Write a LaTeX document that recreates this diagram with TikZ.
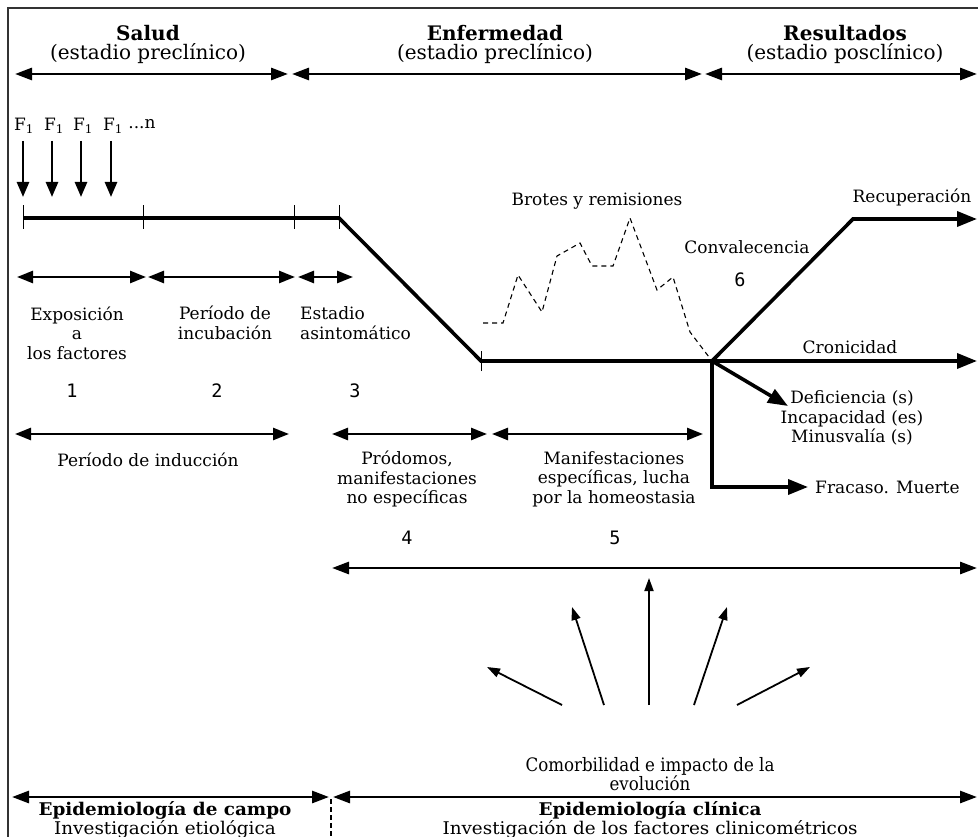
\documentclass[tikz,border=0pt]{standalone}
\usepackage{fontspec}
\setmainfont{DejaVu Serif}
\newfontfamily\numfont{DejaVu Sans Mono}
\newfontfamily\condfont[FakeStretch=0.9]{DejaVu Serif}
\newfontfamily\bcondfont[FakeStretch=1.05]{DejaVu Serif}
\usetikzlibrary{arrows.meta}
\begin{document}
\begin{tikzpicture}[x=1pt,y=-1pt,
  txt/.style={font=\fontsize{17}{19.5}\selectfont, inner sep=0pt, align=center},
  hdr/.style={font=\fontsize{20}{19}\selectfont, inner sep=0pt, align=center},
  num/.style={font=\numfont\fontsize{18.5}{18}\selectfont, inner sep=0pt},
  cond/.style={font=\condfont\fontsize{18.5}{18}\selectfont, inner sep=0pt, align=center},
  bcond/.style={font=\bcondfont\fontsize{17.5}{14.5}\selectfont, inner sep=0pt, align=center},
  hdrarrow/.style={line width=2.8pt, {Triangle[length=17pt,width=12pt]}-{Triangle[length=17pt,width=12pt]}},
  segarrow/.style={line width=2.5pt, {Triangle[length=16pt,width=12pt]}-{Triangle[length=16pt,width=12pt]}},
  farrow/.style={line width=2.5pt, -{Triangle[length=15pt,width=12pt]}},
  fanarrow/.style={line width=1.8pt, -{Triangle[length=13pt,width=9pt]}},
  thickline/.style={line width=3.6pt},
  outarrow/.style={line width=3.6pt, -{Triangle[length=20pt,width=15pt]}},
  tickmark/.style={line width=1pt}
]
\useasboundingbox (0,0) rectangle (978,837);
\fill[white] (0,0) rectangle (978,837);
% frame
\draw[line width=1.3pt, black!80] (8,837) -- (8,8) -- (978,8);

% headers
\node[hdr] (hSalud) at (148,44) {\textbf{Salud}\\(estadio preclínico)};
\node[hdr] (hEnf) at (495,44) {\textbf{Enfermedad}\\(estadio preclínico)};
\node[hdr] (hRes) at (845,44) {\textbf{Resultados}\\(estadio posclínico)};
\coordinate (ha0) at (15,74);
\coordinate (ha1) at (288,74);
\coordinate (ha2) at (292,74);
\coordinate (ha3) at (702,74);
\coordinate (ha4) at (705,74);
\coordinate (ha5) at (977,74);
\draw[hdrarrow] (ha0) -- (ha1);
\draw[hdrarrow] (ha2) -- (ha3);
\draw[hdrarrow] (ha4) -- (ha5);

% factors
\node[txt] (fa) at (24,126) {F\textsubscript{1}};
\node[txt] (fb) at (54,126) {F\textsubscript{1}};
\node[txt] (fc) at (83,126) {F\textsubscript{1}};
\node[txt] (fd) at (113,126) {F\textsubscript{1}};
\node[txt] (fn) at (142,124) {...n};
\coordinate (fa1) at (23,141); \coordinate (fa2) at (23,197);
\coordinate (fb1) at (52,141); \coordinate (fb2) at (52,197);
\coordinate (fc1) at (81,141); \coordinate (fc2) at (81,197);
\coordinate (fd1) at (111,141); \coordinate (fd2) at (111,197);
\draw[farrow] (fa1) -- (fa2);
\draw[farrow] (fb1) -- (fb2);
\draw[farrow] (fc1) -- (fc2);
\draw[farrow] (fd1) -- (fd2);

% timeline
\coordinate (t0) at (23,218);
\coordinate (t1) at (143,218);
\coordinate (t2) at (294,218);
\coordinate (t3) at (339,218);
\coordinate (d0) at (481,361);
\coordinate (jn) at (712,361);
\coordinate (r1) at (853,219);
\coordinate (rEnd) at (977,219);
\coordinate (cEnd) at (977,361);
\coordinate (fr1) at (712,487);
\coordinate (frEnd) at (808,487);
\coordinate (defTip) at (788,406);
\draw[thickline, line join=miter] (t0) -- (t3) -- (d0) -- (jn);
\draw[outarrow] (d0) -- (cEnd);
\draw[outarrow, line join=miter] (jn) -- (r1) -- (rEnd);
\draw[outarrow, line join=miter] (jn) -- (fr1) -- (frEnd);
\draw[outarrow] (jn) -- (defTip);
\foreach \p in {t0,t1,t2,t3} \draw[tickmark] ([yshift=-11pt]\p) -- ([yshift=13pt]\p);
\draw[tickmark] ([yshift=-10pt]d0) -- ([yshift=10pt]d0);

% dashed flare-ups
\draw[line width=1.1pt, dash pattern=on 5pt off 4pt]
  (483,323) -- (503,323) -- (518,275) -- (542,312) -- (557,256) -- (580,243)
  -- (592,266) -- (613,266) -- (630,218) -- (657,290) -- (673,277) -- (690,332) -- (jn);

\node[txt] (brotes) at (597,201) {Brotes y remisiones};
\node[txt] (conv) at (747,247) {Convalecencia};
\node[num] (n6) at (740,280) {6};
\node[txt] (recup) at (912,197) {Recuperación};
\node[txt] (cron) at (850,347) {Cronicidad};
\node[txt] (defic) at (852,418) {Deficiencia (s)\\Incapacidad (es)\\Minusvalía (s)};
\node[txt, anchor=west] (fracaso) at (815,487) {Fracaso. Muerte};

% stage arrows
\coordinate (s0) at (17,277);
\coordinate (s1) at (146,277);
\coordinate (s2) at (148,277);
\coordinate (s3) at (295,277);
\coordinate (s4) at (298,277);
\coordinate (s5) at (353,277);
\draw[segarrow] (s0) -- (s1);
\draw[segarrow] (s2) -- (s3);
\draw[segarrow] (s4) -- (s5);

\node[txt] (expo) at (77,333) {Exposición\\a\\los factores};
\node[txt] (incub) at (225,323) {Período de\\incubación};
\node[txt, align=left, anchor=west] (asint) at (300,323) {Estadio\\asintomático};
\node[num] (n1) at (72,391) {1};
\node[num] (n2) at (217,391) {2};
\node[num] (n3) at (355,391) {3};

% induction etc.
\coordinate (i0) at (15,434);
\coordinate (i1) at (289,434);
\coordinate (p0) at (332,434);
\coordinate (p1) at (487,434);
\coordinate (m0) at (492,434);
\coordinate (m1) at (703,434);
\draw[segarrow] (i0) -- (i1);
\draw[segarrow] (p0) -- (p1);
\draw[segarrow] (m0) -- (m1);
\node[txt] (induc) at (148,460) {Período de inducción};
\node[txt] (prod) at (407,479) {Pródomos,\\manifestaciones\\no específicas};
\node[txt] (manif) at (614,479) {Manifestaciones\\específicas, lucha\\por la homeostasia};
\node[num] (n4) at (407,538) {4};
\node[num] (n5) at (615,538) {5};
\coordinate (l0) at (332,568);
\coordinate (l1) at (977,568);
\draw[hdrarrow] (l0) -- (l1);

% comorbidity fan
\coordinate (c1a) at (562,705); \coordinate (c1b) at (487,667);
\coordinate (c2a) at (604,705); \coordinate (c2b) at (572,607);
\coordinate (c3a) at (649,705); \coordinate (c3b) at (649,578);
\coordinate (c4a) at (694,705); \coordinate (c4b) at (727,607);
\coordinate (c5a) at (737,705); \coordinate (c5b) at (810,667);
\draw[fanarrow] (c1a) -- (c1b);
\draw[fanarrow] (c2a) -- (c2b);
\draw[fanarrow] (c3a) -- (c3b);
\draw[fanarrow] (c4a) -- (c4b);
\draw[fanarrow] (c5a) -- (c5b);
\node[cond] (comorb) at (650,774) {Comorbilidad e impacto de la\\evolución};

% bottom
\coordinate (b0) at (12,797);
\coordinate (b1) at (329,797);
\coordinate (b2) at (333,797);
\coordinate (b3) at (977,797);
\coordinate (dv0) at (331,799);
\coordinate (dv1) at (331,837);
\draw[hdrarrow] (b0) -- (b1);
\draw[hdrarrow] (b2) -- (b3);
\draw[line width=1.2pt, dash pattern=on 5pt off 3pt] (dv0) -- (dv1);
\node[bcond] (campo) at (165,820) {\textbf{Epidemiología de campo}\\Investigación etiológica};
\node[bcond] (clin) at (650,820) {\textbf{Epidemiología clínica}\\Investigación de los factores clinicométricos};
\end{tikzpicture}
\end{document}
